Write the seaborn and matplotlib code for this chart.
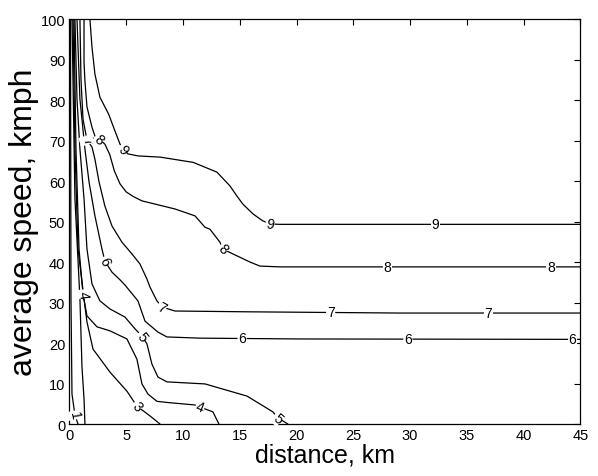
import numpy as np
import pandas as pd
import seaborn as sns
import matplotlib
matplotlib.use('Agg')
import matplotlib.pyplot as plt

# contour lines (distance km, average speed kmph)
dist_1 = [0.09, 0.13, 0.22, 0.48, 0.75]
speed_1 = [100, 30.9, 7.4, 2.2, 0]

dist_2 = [0.22, 0.48, 0.92, 1.10, 1.28, 1.36]
speed_2 = [100, 55.6, 30.9, 14.1, 6.2, 0]

dist_3 = [0.31, 0.48, 0.75, 1.36, 1.54, 2.07, 3.57, 5.06, 5.94, 7.09, 7.97]
speed_3 = [100, 67.9, 43.2, 29.1, 25.2, 18.5, 12.8, 8.1, 4.4, 2.0, 0]

dist_4 = [0.40, 0.57, 0.84, 1.19, 1.54, 2.42, 3.57, 5.06, 5.94, 6.38, 6.91, 7.70,
          8.67, 11.05, 11.49, 12.63, 13.16]
speed_4 = [100, 67.9, 43.2, 32.1, 26.7, 24.0, 23.0, 21.0, 16.0, 9.9, 7.4, 5.6,
           5.3, 4.7, 4.2, 3.0, 0]

dist_5 = [0.48, 0.66, 0.92, 1.28, 1.54, 1.98, 2.68, 3.57, 4.89, 5.77, 6.38, 6.82,
          7.26, 7.79, 8.58, 11.93, 15.63, 17.91, 18.35, 19.23]
speed_5 = [100, 80.2, 67.9, 55.6, 43.2, 34.6, 30.4, 28.4, 26.4, 23.5, 21.7, 19.8,
           14.8, 11.6, 10.4, 9.9, 6.9, 3.0, 1.5, 0]

dist_6 = [0.66, 0.92, 1.36, 1.72, 2.24, 2.86, 3.12, 3.74, 4.45, 4.89, 6.03, 6.65,
          7.79, 8.58, 11.49, 20.29, 45]
speed_6 = [100, 80.2, 67.9, 59.8, 51.4, 43.2, 40.2, 37.5, 35.6, 34.3, 30.4, 25.4,
           22.7, 21.5, 21.2, 21.0, 20.9]

dist_7 = [0.92, 1.01, 1.19, 1.54, 1.98, 2.24, 2.60, 3.12, 3.74, 4.62, 5.50, 6.21,
          6.82, 7.09, 7.70, 8.14, 9.29, 15.89, 29.09, 45]
speed_7 = [100, 85.2, 75.3, 70.1, 68.4, 65.4, 59.8, 53.8, 48.9, 44.9, 42.0, 39.5,
           35.8, 33.8, 30.4, 28.9, 27.9, 27.7, 27.4, 27.4]

dist_8 = [1.28, 1.28, 1.36, 1.54, 1.98, 2.24, 2.60, 3.12, 3.55, 3.95, 4.45, 5.00,
          5.60, 6.38, 9.29, 11.05, 11.93, 12.37, 13.25, 13.51, 14.39, 15.89, 16.77,
          18.53, 45]
speed_8 = [100, 89.4, 84.7, 78.3, 73.3, 71.1, 70.4, 69.1, 66.5, 62.5, 59.3, 57.3,
           56.2, 55.1, 53.1, 51.4, 48.6, 48.1, 44.9, 43.2, 42.0, 40.0, 39.0,
           38.8, 38.8]

dist_9 = [1.80, 1.98, 2.24, 2.68, 3.45, 4.01, 4.45, 4.71, 5.15, 6.03, 8.00, 10.9,
          12.98, 14.13, 14.74, 15.27, 16.15, 17.00, 17.65, 18.53, 45]
speed_9 = [100, 93.1, 86.4, 80.7, 76.5, 72.3, 69.1, 67.9, 66.7, 66.2, 65.9, 64.6,
           62.2, 58.8, 56.3, 54.3, 51.9, 50.2, 49.4, 49.3, 49.3]

# inline contour labels
label_level = [1, 3, 4, 4, 5, 5, 6, 6, 6, 6, 7, 7, 7, 7, 8, 8, 8, 8, 9, 9, 9]
label_dist = [0.48, 5.94, 1.19, 11.49, 6.38, 18.35, 3.12, 15.2, 29.8, 44.3,
              1.54, 8.14, 23.0, 36.9, 2.60, 13.51, 28.0, 42.4, 4.71, 17.65, 32.2]

lines = [(1, dist_1, speed_1), (2, dist_2, speed_2), (3, dist_3, speed_3),
         (4, dist_4, speed_4), (5, dist_5, speed_5), (6, dist_6, speed_6),
         (7, dist_7, speed_7), (8, dist_8, speed_8), (9, dist_9, speed_9)]

df = pd.concat([pd.DataFrame({'level': lv, 'distance': d, 'speed': s})
                for lv, d, s in lines], ignore_index=True)

sns.set_style('white')
plt.rcParams['font.family'] = ['Liberation Sans', 'DejaVu Sans']
plt.rcParams['text.color'] = 'black'
plt.rcParams['axes.labelcolor'] = 'black'

fig = plt.figure(figsize=(5.98, 4.77), dpi=100)
ax = fig.add_axes([0.1162, 0.109, 0.8545, 0.849])

sns.lineplot(data=df, x='distance', y='speed', units='level', estimator=None,
             sort=False, color='black', linewidth=0.9, ax=ax, legend=False)

ax.set_xlim(0, 45)
ax.set_ylim(0, 100)
ax.set_xticks(np.arange(0, 46, 5))
ax.set_yticks(np.arange(0, 101, 10))
ax.tick_params(direction='in', length=4, width=0.8, top=True, right=True,
               labelsize=10.5, pad=3, colors='black')
for sp in ax.spines.values():
    sp.set_color('black')
    sp.set_linewidth(0.9)

ax.set_xlabel('distance, km', fontsize=18, labelpad=0, color='black')
ax.set_ylabel('average speed, kmph', fontsize=23, labelpad=1, color='black')

fig.canvas.draw()
by_level = {lv: (np.array(d), np.array(s)) for lv, d, s in lines}
for lv, xd in zip(label_level, label_dist):
    d, s = by_level[lv]
    pts = ax.transData.transform(np.column_stack([d, s]))
    i = int(np.argmin(np.abs(d - xd)))
    yd = s[i]
    if i < len(d) - 1 and d[i + 1] != d[i] and min(d[i], d[i + 1]) <= xd <= max(d[i], d[i + 1]):
        yd = s[i] + (s[i + 1] - s[i]) * (xd - d[i]) / (d[i + 1] - d[i])
    elif i > 0 and d[i - 1] != d[i] and min(d[i], d[i - 1]) <= xd <= max(d[i], d[i - 1]):
        yd = s[i - 1] + (s[i] - s[i - 1]) * (xd - d[i - 1]) / (d[i] - d[i - 1])
    a = pts[max(i - 1, 0)]
    b = pts[min(i + 1, len(d) - 1)]
    ang = np.degrees(np.arctan2(b[1] - a[1], b[0] - a[0]))
    if ang > 90:
        ang -= 180
    if ang < -90:
        ang += 180
    ax.text(xd, yd, str(lv), fontsize=10, ha='center', va='center', rotation=ang,
            rotation_mode='anchor', color='black',
            bbox=dict(facecolor='white', edgecolor='none', pad=0.5), zorder=5)

fig.savefig('out.png', dpi=100)
